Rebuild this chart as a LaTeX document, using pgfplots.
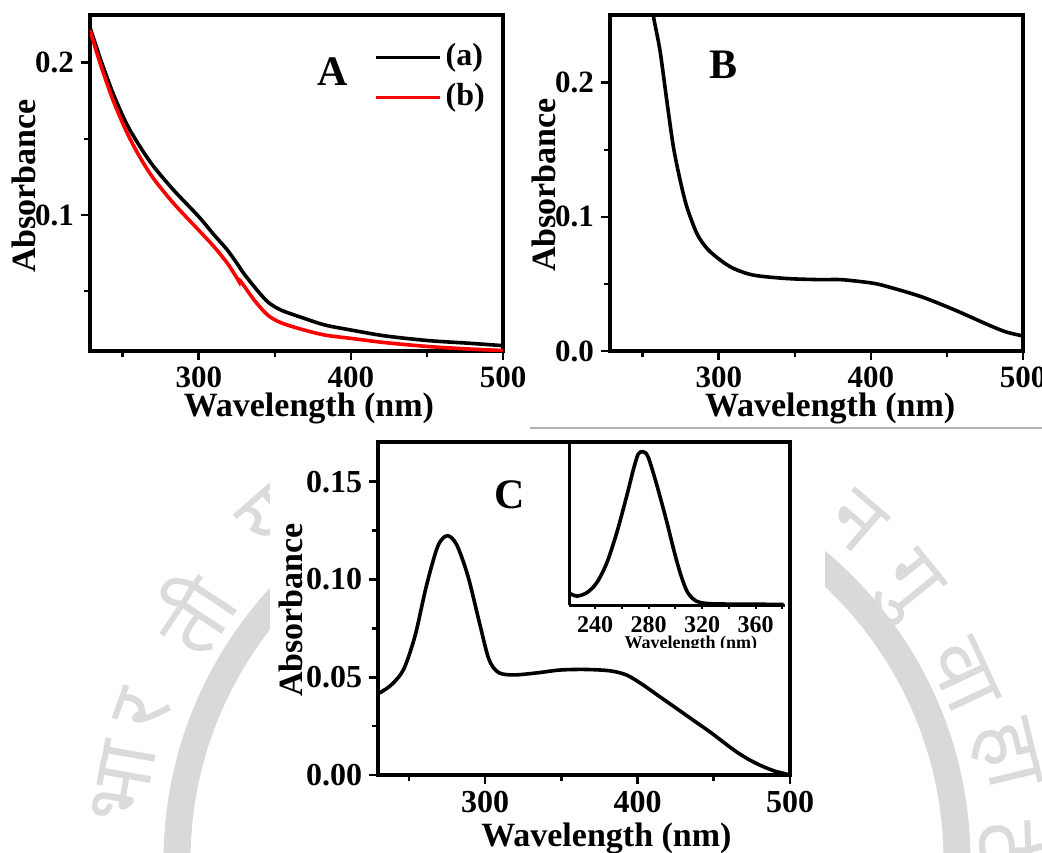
\documentclass[border=0pt]{standalone}
\usepackage{pgfplots}
\pgfplotsset{compat=1.18}
\usepackage{fontspec}
\setmainfont{Liberation Serif}
\newfontfamily\devfont[Script=Devanagari]{Noto Sans}

% one pixel of the layout grid = 0.5pt
\pgfplotsset{
  spectrum/.style={
    scale only axis, anchor=south west,
    axis line style={line width=2pt},
    tick align=outside, tick pos=left,
    major tick length=4.5pt, minor tick length=3pt,
    every tick/.style={black, line width=1.3pt},
    tick label style={font=\bfseries\fontsize{15.5}{15.5}\selectfont},
    label style={font=\bfseries\fontsize{17}{17}\selectfont},
    /pgf/number format/assume math mode=true,
    scaled ticks=false,
    xtick={300,400,500}, minor xtick={250,350,450},
    every axis plot/.append style={line width=1.8pt, smooth, tension=0.5},
    xlabel={Wavelength (nm)}, ylabel={Absorbance},
  },
}
\tikzset{panel label/.style={font=\bfseries\fontsize{21}{21}\selectfont}}

\begin{document}
\begin{tikzpicture}
\path[use as bounding box] (0,0) rectangle (521pt,-426pt);

% institute seal in the background
\begin{scope}[shift={(283.5pt,-430.5pt)}]
  \draw[black!15, line width=13.5pt] (0,0) circle (195pt);
  \begin{scope}[every node/.style={text=black!14, font=\devfont\fontsize{42}{42}\selectfont, inner sep=0pt}]
    \node[rotate=80]    at (170:225pt) {भा};
    \node[rotate=70.5]  at (160.5:225pt) {र};
    \node[rotate=56.5]  at (146.5:225pt) {ती};
    \node[rotate=41]    at (131:227pt) {य};
    \node[rotate=-40.5] at (49.5:223pt) {न};
    \node[rotate=-51]   at (39:217pt) {गु};
    \node[rotate=-65]   at (25:219pt) {वा};
    \node[rotate=-76.4] at (13.6:225pt) {हा};
    \node[rotate=-88]   at (1:225pt) {टी};
  \end{scope}
\end{scope}
\fill[white] (135pt,-215pt) rectangle (412.5pt,-426pt);
\draw[black!30, line width=0.6pt] (265pt,-214pt) -- (521pt,-214pt);

% ---------------- A ----------------
\begin{axis}[spectrum,
  at={(45pt,-175.5pt)}, width=206.5pt, height=168pt,
  xmin=228.5, xmax=500, ymin=0.0107, ymax=0.2313,
  ytick={0.1,0.2}, minor ytick={0.05,0.15},
  yticklabel style={/pgf/number format/.cd, fixed, precision=1},
  xlabel style={at={(axis description cs:0.53,-0.17)}, anchor=center},
  ylabel style={at={(axis description cs:-0.16,0.491)}, anchor=center},
  legend style={draw=none, fill=none, at={(axis description cs:0.687,0.9345)},
    anchor=north west, inner sep=0pt, row sep=0pt,
    font=\bfseries\fontsize{16}{16}\selectfont,
    nodes={inner sep=2pt, text height=12pt, text depth=4pt}},
  legend cell align=left,
  legend image code/.code={\draw[#1, line width=1.8pt] (0pt,0pt) -- (32pt,0pt);},
]
\addplot[black] coordinates {
(228.5,0.2232) (234.8,0.204) (243.6,0.180) (252.5,0.160) (261.3,0.145)
(270.2,0.132) (283.4,0.1164) (300,0.0989) (310,0.087) (318.8,0.077)
(326.5,0.0662) (328.7,0.0628) (336.4,0.053) (345.3,0.043) (354,0.0376)
(367.4,0.0328) (382.8,0.0278) (400,0.0245) (422.6,0.0206) (451.3,0.0175)
(477.8,0.0158) (500,0.0142)};
\addlegendentry{(a)}
\addplot[red] coordinates {
(228.5,0.2214) (234.8,0.2007) (243.6,0.1755) (252.5,0.1547) (261.3,0.138)
(270.2,0.124) (283.4,0.1077) (300,0.090) (310,0.0792) (318.8,0.0683)
(325.5,0.058) (326.5,0.0562) (327.5,0.0566) (336.4,0.0442) (345.3,0.0343)
(354,0.0293) (367.4,0.025) (382.8,0.0212) (400,0.019) (422.6,0.0162)
(451.3,0.0136) (477.8,0.012) (500,0.011)};
\addlegendentry{(b)}
\node[panel label] at (rel axis cs:0.588,0.83) {A};
\end{axis}

% ---------------- B ----------------
\begin{axis}[spectrum,
  at={(305pt,-175.5pt)}, width=206.5pt, height=168pt,
  xmin=228.5, xmax=500, ymin=0, ymax=0.2505,
  ytick={0,0.1,0.2}, minor ytick={0.05,0.15},
  yticklabel style={/pgf/number format/.cd, fixed, fixed zerofill, precision=1},
  xlabel style={at={(axis description cs:0.533,-0.17)}, anchor=center},
  ylabel style={at={(axis description cs:-0.16,0.494)}, anchor=center},
]
\addplot[black] coordinates {
(254,0.275) (256.9,0.2505) (261.3,0.2244) (265.8,0.187) (270.2,0.152)
(274.6,0.1274) (279,0.1075) (285.6,0.0876) (292.3,0.0764) (301.1,0.0677)
(310,0.0614) (323.2,0.0565) (345.3,0.054) (367.4,0.0532) (380.6,0.0532)
(400.5,0.0507) (411.6,0.0478) (433.6,0.0403) (455.7,0.0303) (477.8,0.0192)
(488.9,0.0142) (500,0.0112)};
\node[panel label] at (rel axis cs:0.274,0.851) {B};
\end{axis}

% ---------------- C ----------------
\begin{axis}[spectrum,
  at={(189.15pt,-387.5pt)}, width=205.85pt, height=166.65pt,
  xmin=230, xmax=500, ymin=0, ymax=0.1705,
  ytick={0,0.05,0.1,0.15}, minor ytick={0.025,0.075,0.125},
  tick label style={font=\bfseries\fontsize{16}{16}\selectfont},
  yticklabel style={/pgf/number format/.cd, fixed, fixed zerofill, precision=2},
  xlabel style={at={(axis description cs:0.554,-0.189)}, anchor=center},
  ylabel style={at={(axis description cs:-0.213,0.495)}, anchor=center},
]
\addplot[black] coordinates {
(230,0.0420) (231.8,0.0424) (239.2,0.0466) (246.7,0.0542) (254.1,0.0712)
(261.5,0.0966) (269,0.117) (275.2,0.1224) (281.4,0.1178) (288.8,0.1017)
(296.3,0.078) (302.5,0.0593) (308.7,0.0525) (318.6,0.0512) (333.5,0.0522)
(349,0.0537) (365.5,0.0540) (382,0.0533) (393,0.0511) (403.8,0.0460)
(414.7,0.0400) (425.7,0.0340) (436.6,0.0280) (447.6,0.0220) (456,0.0170)
(465,0.0118) (474,0.0075) (482.4,0.0043) (490,0.0020) (496,0.0008)
(500,0.0)};
\node[panel label] at (rel axis cs:0.32,0.84) {C};
\end{axis}

% inset of C
\begin{axis}[
  at={(284.65pt,-302.5pt)}, anchor=south west, scale only axis,
  width=107.85pt, height=81.5pt,
  xmin=220.7, xmax=382, ymin=0, ymax=1.02,
  axis x line=bottom, axis y line=left,
  axis line style={-, line width=1.5pt},
  xtick={240,280,320,360}, minor xtick={260,300,340,380}, ytick=\empty,
  tick align=outside, major tick length=2pt, minor tick length=2pt,
  every tick/.style={black, line width=1pt},
  tick label style={font=\bfseries\fontsize{12}{12}\selectfont},
  /pgf/number format/assume math mode=true,
  xlabel={Wavelength (nm)},
  xlabel style={font=\bfseries\fontsize{9}{9}\selectfont,
    at={(axis description cs:0.564,-0.19)}, anchor=north, inner sep=0pt},
]
\addplot[black, line width=1.8pt, smooth, tension=0.5] coordinates {
(221,0.073) (226.4,0.056) (233.8,0.077) (241.2,0.139) (248.7,0.263)
(256.1,0.450) (263.5,0.678) (268.5,0.844) (272.2,0.944) (275.9,0.959)
(279.6,0.927) (285.8,0.761) (293.2,0.533) (299.4,0.326) (304.4,0.180)
(309.3,0.077) (315.5,0.025) (322.9,0.010) (337.8,0.006) (381,0.004)};
\end{axis}
% the inset's axis title is cut off at its lower half
\fill[white] (295pt,-323.8pt) rectangle (390pt,-331.5pt);

\end{tikzpicture}
\end{document}
